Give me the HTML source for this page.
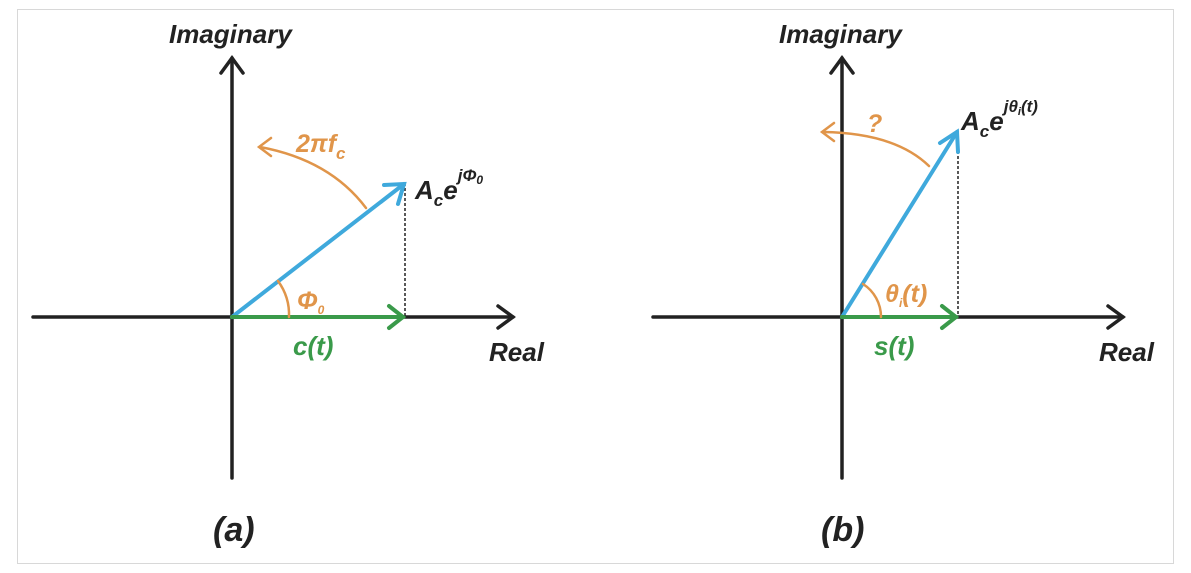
<!DOCTYPE html>
<html><head><meta charset="utf-8"><style>
body{margin:0;background:#fff;}
svg{display:block;font-family:"Liberation Sans",Arial,sans-serif;font-weight:bold;font-style:italic;}
</style></head><body>
<svg width="1191" height="573" viewBox="0 0 1191 573" xmlns="http://www.w3.org/2000/svg">
<rect x="17.5" y="9.5" width="1156" height="554" fill="#fff" stroke="#d8d8d8"/>
<!-- Panel A -->
<g stroke="#222" stroke-width="3.5" fill="none" stroke-linecap="round">
<line x1="232" y1="478" x2="232" y2="58"/><polyline points="221,73 232,58 243,73"/>
<line x1="33" y1="317" x2="513" y2="317"/><polyline points="498,306 513,317 498,328"/>
</g>
<line x1="405" y1="183" x2="405" y2="317" stroke="#222" stroke-width="1.5" stroke-dasharray="3,2"/>
<g stroke="#3fa9dc" stroke-width="4" fill="none" stroke-linecap="round">
<line x1="232" y1="317" x2="404" y2="184"/><polyline points="384,185 404,184 398,204"/>
</g>
<g stroke="#3a9a4a" stroke-width="4" fill="none" stroke-linecap="round">
<line x1="232" y1="317" x2="403" y2="317"/><polyline points="389,306 403,317 389,328"/>
</g>
<g stroke="#e0954a" stroke-width="2.5" fill="none" stroke-linecap="round">
<path d="M366,208 Q330,160 260,147"/><polyline points="271,138 259,147 271,156"/>
<path d="M289,317 A57,57 0 0 0 278,281"/>
</g>
<text x="169" y="43" font-size="26" fill="#222">Imaginary</text>
<text x="489" y="361" font-size="26" fill="#222">Real</text>
<text x="296" y="152" font-size="25" fill="#e0954a">2πf<tspan font-size="17" dy="7">c</tspan></text>
<text x="415" y="199" font-size="26" fill="#222">A<tspan font-size="17" dy="7">c</tspan><tspan dy="-7">e</tspan><tspan font-size="17" dy="-18">jΦ</tspan><tspan font-size="12" dy="3">0</tspan></text>
<text x="297" y="309" font-size="25" fill="#e0954a">Φ<tspan font-size="12" dy="5">0</tspan></text>
<text x="293" y="355" font-size="26" fill="#3a9a4a">c(t)</text>
<text x="213" y="541" font-size="34" fill="#222">(a)</text>
<!-- Panel B -->
<g stroke="#222" stroke-width="3.5" fill="none" stroke-linecap="round">
<line x1="842" y1="478" x2="842" y2="58"/><polyline points="831,73 842,58 853,73"/>
<line x1="653" y1="317" x2="1123" y2="317"/><polyline points="1108,306 1123,317 1108,328"/>
</g>
<line x1="958" y1="131" x2="958" y2="317" stroke="#222" stroke-width="1.5" stroke-dasharray="3,2"/>
<g stroke="#3fa9dc" stroke-width="4" fill="none" stroke-linecap="round">
<line x1="842" y1="317" x2="957" y2="132"/><polyline points="940,143 957,132 958,152"/>
</g>
<g stroke="#3a9a4a" stroke-width="4" fill="none" stroke-linecap="round">
<line x1="842" y1="317" x2="956" y2="317"/><polyline points="942,306 956,317 942,328"/>
</g>
<g stroke="#e0954a" stroke-width="2.5" fill="none" stroke-linecap="round">
<path d="M929,166 Q895,133 823,132"/><polyline points="834,123 822,132 834,141"/>
<path d="M881,317 A39,39 0 0 0 863,284"/>
</g>
<text x="779" y="43" font-size="26" fill="#222">Imaginary</text>
<text x="1099" y="361" font-size="26" fill="#222">Real</text>
<text x="867" y="132" font-size="25" fill="#e0954a">?</text>
<text x="961" y="130" font-size="26" fill="#222">A<tspan font-size="17" dy="7">c</tspan><tspan dy="-7">e</tspan><tspan font-size="17" dy="-18">jθ</tspan><tspan font-size="11" dy="3">i</tspan><tspan font-size="17" dy="-3">(t)</tspan></text>
<text x="885" y="302" font-size="25" fill="#e0954a">θ<tspan font-size="12" dy="5">i</tspan><tspan dy="-5">(t)</tspan></text>
<text x="874" y="355" font-size="26" fill="#3a9a4a">s(t)</text>
<text x="821" y="541" font-size="34" fill="#222">(b)</text>
</svg>
</body></html>
